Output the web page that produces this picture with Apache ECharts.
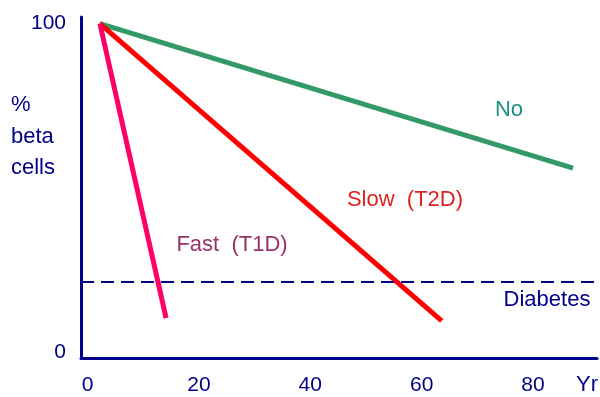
<!DOCTYPE html>
<html>
<head>
<meta charset="utf-8">
<script src="https://cdn.jsdelivr.net/npm/echarts@6/dist/echarts.min.js"></script>
<style>
html,body{margin:0;padding:0;background:#fff;}
#main{width:600px;height:397px;}
</style>
</head>
<body>
<div id="main"></div>
<script>
// Data
const xTickValues = [0, 20, 40, 60, 80];
const yTickValues = [0, 100];
const noSeries = [[2.2, 100], [87.2, 56]];
const slowSeries = [[2.2, 100], [63.6, 9.5]];
const fastSeries = [[2.2, 100], [14.1, 10.3]];
const diabetesLevel = 21.4;
const xUnit = 'Yr';
const yTitleLines = ['%', 'beta', 'cells'];
const labelNo = 'No';
const labelSlow = 'Slow  (T2D)';
const labelFast = 'Fast  (T1D)';
const labelDiabetes = 'Diabetes';

const navy = '#000088';
const font = 'Liberation Sans, Arial, sans-serif';

const chart = echarts.init(document.getElementById('main'), null, {renderer: 'canvas'});

function txt(text, x, y, color, align) {
  return {
    type: 'text', x: x, y: y, silent: true,
    style: {text: text, fill: color, fontSize: 22, fontFamily: font,
            align: align || 'center', verticalAlign: 'middle'}
  };
}

const option = {
  animation: false,
  backgroundColor: '#ffffff',
  grid: {left: 81, right: 3, top: 17, bottom: 39, containLabel: false},
  xAxis: {
    type: 'value', min: -1.19, max: 91.5,
    splitLine: {show: false},
    axisTick: {show: false},
    axisLine: {show: true, onZero: false, lineStyle: {color: navy, width: 3}},
    axisLabel: {customValues: xTickValues, color: navy, fontSize: 21, fontFamily: font, margin: 17}
  },
  yAxis: {
    type: 'value', min: -1.83, max: 102,
    splitLine: {show: false},
    axisTick: {show: false},
    axisLine: {show: true, onZero: false, lineStyle: {color: navy, width: 3}},
    axisLabel: {customValues: yTickValues, color: navy, fontSize: 21, fontFamily: font, margin: 15}
  },
  series: [
    {type: 'line', data: noSeries, showSymbol: false, lineStyle: {color: '#339966', width: 5}},
    {type: 'line', data: slowSeries, showSymbol: false, lineStyle: {color: '#ff0000', width: 5}},
    {type: 'line', data: fastSeries, showSymbol: false, lineStyle: {color: '#ff0066', width: 5},
     markLine: {silent: true, symbol: ['none', 'none'], label: {show: false},
       lineStyle: {color: navy, width: 2, type: [13, 7]},
       data: [{yAxis: diabetesLevel}]}}
  ],
  graphic: [
    txt(yTitleLines[0], 11, 105, navy, 'left'),
    txt(yTitleLines[1], 11, 137, navy, 'left'),
    txt(yTitleLines[2], 11, 168, navy, 'left'),
    txt(labelNo, 509, 110, '#1f8f86'),
    txt(labelSlow, 405, 200, '#dd2222'),
    txt(labelFast, 232, 245, '#993366'),
    txt(labelDiabetes, 547, 300, navy),
    txt(xUnit, 587, 385, navy)
  ]
};
chart.setOption(option);
</script>
</body>
</html>
